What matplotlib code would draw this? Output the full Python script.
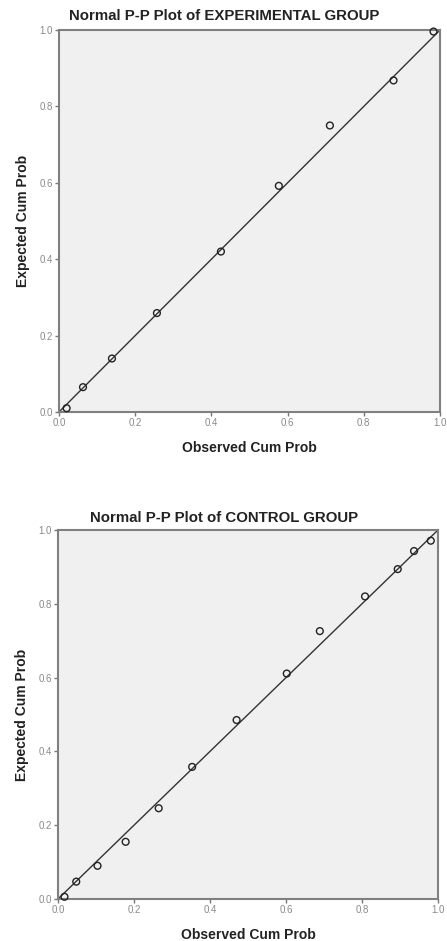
import matplotlib
matplotlib.use("Agg")
import matplotlib.pyplot as plt

plt.rcParams['font.family'] = ['Liberation Sans', 'DejaVu Sans']

exp_title = "Normal P-P Plot of EXPERIMENTAL GROUP"
exp_observed = [0.02, 0.063, 0.139, 0.257, 0.425, 0.577, 0.711, 0.878, 0.983]
exp_expected = [0.01, 0.065, 0.140, 0.259, 0.420, 0.592, 0.750, 0.868, 0.996]

ctl_title = "Normal P-P Plot of CONTROL GROUP"
ctl_observed = [0.017, 0.048, 0.104, 0.178, 0.265, 0.353, 0.470, 0.602, 0.689, 0.808, 0.894, 0.937, 0.981]
ctl_expected = [0.006, 0.047, 0.090, 0.155, 0.246, 0.358, 0.485, 0.611, 0.726, 0.820, 0.894, 0.943, 0.971]

ticks = [0.0, 0.2, 0.4, 0.6, 0.8, 1.0]
tick_labels = ["0.0", "0.2", "0.4", "0.6", "0.8", "1.0"]
xlabel = "Observed Cum Prob"
ylabel = "Expected Cum Prob"

W, H = 447, 941
fig = plt.figure(figsize=(W / 100, H / 100), dpi=100)
fig.patch.set_facecolor("white")

panels = [
    (exp_title, exp_observed, exp_expected, (59, 30, 440, 412), 16),
    (ctl_title, ctl_observed, ctl_expected, (58, 530, 438, 899), 518),
]

for title, obs, expd, (l, t, r, b), ty in panels:
    ax = fig.add_axes([l / W, 1 - b / H, (r - l) / W, (b - t) / H])
    ax.set_facecolor("#f0f0f0")
    ax.plot([0, 1], [0, 1], color="#333333", lw=1.0, zorder=2)
    ax.scatter(obs, expd, s=24, facecolors="none", edgecolors="#222222", linewidths=1.0, zorder=3, clip_on=False)
    ax.set_xlim(0, 1)
    ax.set_ylim(0, 1)
    ax.set_xticks(ticks)
    ax.set_xticklabels(tick_labels)
    ax.set_yticks(ticks)
    ax.set_yticklabels(tick_labels)
    ax.tick_params(axis="both", labelsize=7, labelcolor="#8a8a8a", color="#777777",
                   length=3, width=1, pad=1.5)
    for s in ax.spines.values():
        s.set_color("#808080")
        s.set_linewidth(1.5)
    ax.set_xlabel(xlabel, fontsize=10, fontweight="bold", color="#222222", labelpad=9)
    ax.set_ylabel(ylabel, fontsize=10, fontweight="bold", color="#222222", labelpad=7)
    fig.text(224 / W, 1 - ty / H, title, ha="center", va="center", fontsize=10.8,
             fontweight="bold", color="#222222")

fig.savefig("out.png", dpi=100)
